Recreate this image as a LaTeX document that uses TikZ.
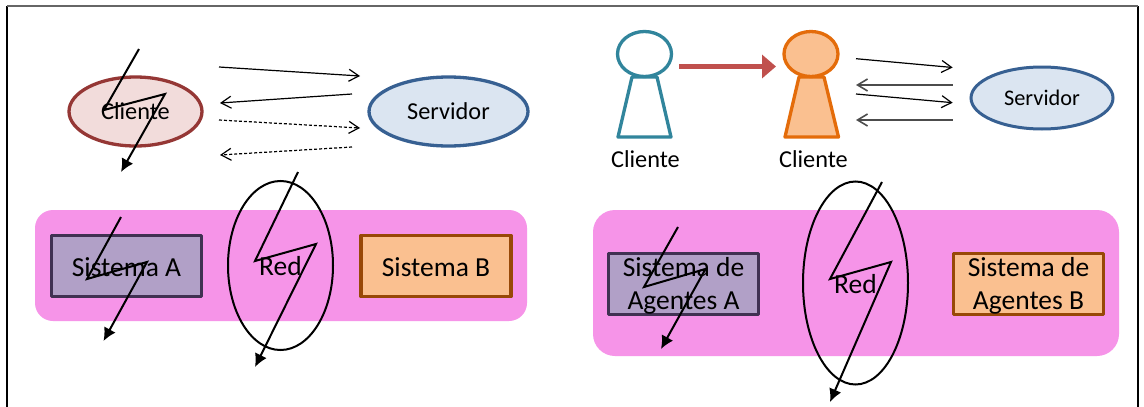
\documentclass[tikz,border=0pt]{standalone}
\usepackage{fontspec}
\setmainfont{Carlito}
\usetikzlibrary{arrows.meta,shapes.geometric,calc}
\definecolor{pinkbg}{HTML}{F694E8}
\definecolor{clientfill}{HTML}{F2DCDB}
\definecolor{clientline}{HTML}{953735}
\definecolor{servfill}{HTML}{DBE5F1}
\definecolor{servline}{HTML}{376092}
\definecolor{purplefill}{HTML}{B1A0C7}
\definecolor{purpleline}{HTML}{403152}
\definecolor{orangefill}{HTML}{FAC090}
\definecolor{orangeline}{HTML}{984807}
\definecolor{tealline}{HTML}{31859C}
\definecolor{orangep}{HTML}{E46C0A}
\definecolor{redarrow}{HTML}{C0504D}
\tikzset{
  x=1pt,y=-1pt,
  big/.style={font=\fontsize{27.5}{33}\selectfont,align=center,text=black},
  mid/.style={font=\fontsize{24.3}{29}\selectfont,align=center,text=black},
  small/.style={font=\fontsize{22.3}{27}\selectfont,align=center,text=black},
  panel/.style={fill=pinkbg,draw=none,rounded corners=#1,inner sep=0pt,minimum width=0pt},
  sysbox/.style={rectangle,line width=3.2pt,line join=round,inner sep=0pt,minimum width=150pt,minimum height=61pt},
  oval/.style={ellipse,line width=3.3pt,inner sep=0pt},
  redoval/.style={ellipse,draw=black,line width=2pt,inner sep=0pt},
  bolt/.style={draw=black,line width=2pt,line join=miter,-{Latex[length=13pt,width=13pt]}},
  msg/.style={draw=black,line width=1.2pt,-{Straight Barb[length=10pt,width=12pt]}},
  msgd/.style={msg,densely dashed},
  msgg/.style={msg,draw=black!70,line width=1.6pt},
  person/.style={line width=3.3pt,line join=round},
}
\begin{document}
\begin{tikzpicture}
\useasboundingbox (0,0) rectangle (1144,407);
\fill[white] (0,0) rectangle (1144,407);
% frame
\coordinate (fa) at (7,407); \coordinate (fb) at (7,6); \coordinate (fc) at (1138,6); \coordinate (fd) at (1138,407);
\draw[black,line width=1.4pt] (fa) -- (fb);
\draw[black,line width=1.4pt] (fc) -- (fd);
\draw[black!60,line width=2pt] (fb) -- (fc);

% panels
\node[panel=18pt,minimum width=492pt,minimum height=111pt] (pl) at (281,265.5) {};
\node[panel=22pt,minimum width=526pt,minimum height=146pt] (pr) at (856,283) {};

% left top
\node[oval,draw=clientline,fill=clientfill,mid,minimum width=133pt,minimum height=69pt] (cl) at (135.5,111.5) {Cliente};
\node[oval,draw=servline,fill=servfill,mid,minimum width=159pt,minimum height=69pt] (sv) at (448.5,111.5) {Servidor};
\coordinate (a1) at (219,67); \coordinate (a2) at (360,76);
\coordinate (a3) at (352,94); \coordinate (a4) at (220,103);
\coordinate (a5) at (219,120); \coordinate (a6) at (360,128);
\coordinate (a7) at (352,147); \coordinate (a8) at (220,155);
\draw[msg] (a1) -- (a2);
\draw[msg] (a3) -- (a4);
\draw[msgd] (a5) -- (a6);
\draw[msgd] (a7) -- (a8);

% left bottom
\node[sysbox,draw=purpleline,fill=purplefill,big] (sa) at (126.5,266) {\rule{0pt}{21pt}Sistema A};
\node[sysbox,draw=orangeline,fill=orangefill,big] (sb) at (436,266) {\rule{0pt}{21pt}Sistema B};
\node[redoval,big,minimum width=105pt,minimum height=169pt] (r1) at (280.5,265.5) {\rule{0pt}{21pt}Red};

% right top: persons
\coordinate (p1a) at (632,77); \coordinate (p1b) at (657,77); \coordinate (p1c) at (671,137); \coordinate (p1d) at (618,137);
\draw[person,draw=tealline,fill=white] (p1a) -- (p1b) -- (p1c) -- (p1d) -- cycle;
\node[ellipse,person,draw=tealline,fill=white,inner sep=0pt,minimum width=54pt,minimum height=45pt] (h1) at (644.5,54) {};
\coordinate (p2a) at (799,77); \coordinate (p2b) at (824,77); \coordinate (p2c) at (838.5,137); \coordinate (p2d) at (785,137);
\draw[person,draw=orangep,fill=orangefill] (p2a) -- (p2b) -- (p2c) -- (p2d) -- cycle;
\node[ellipse,person,draw=orangep,fill=orangefill,inner sep=0pt,minimum width=54pt,minimum height=45pt] (h2) at (811,54) {};
\node[mid] (l1) at (645.5,159) {Cliente};
\node[mid] (l2) at (813.5,159) {Cliente};
\coordinate (ra) at (679,66.5); \coordinate (rb) at (776,66.5);
\draw[draw=redarrow,line width=5pt,-{Triangle[length=14pt,width=23pt]}] (ra) -- (rb);
\node[oval,draw=servline,fill=servfill,small,line width=3pt,minimum width=142pt,minimum height=62pt] (s2) at (1042,98) {Servidor};
\coordinate (b1) at (856,58.7); \coordinate (b2) at (952.7,67.5);
\coordinate (b3) at (952.7,85); \coordinate (b4) at (856,85);
\coordinate (b5) at (856,94); \coordinate (b6) at (952.7,102.7);
\coordinate (b7) at (952.7,120); \coordinate (b8) at (856,120);
\draw[msg] (b1) -- (b2);
\draw[msgg] (b3) -- (b4);
\draw[msg] (b5) -- (b6);
\draw[msgg] (b7) -- (b8);

% right bottom
\node[sysbox,draw=purpleline,fill=purplefill,big] (ga) at (683.5,284) {\rule{0pt}{23pt}Sistema de\\Agentes A};
\node[sysbox,draw=orangeline,fill=orangefill,big] (gb) at (1028.5,284) {\rule{0pt}{23pt}Sistema de\\Agentes B};
\node[redoval,big,minimum width=105pt,minimum height=203pt] (r2) at (855.5,283) {\rule{0pt}{21pt}Red};

% lightning bolts
\coordinate (z1a) at (139,49); \coordinate (z1b) at (104,110); \coordinate (z1c) at (165,94); \coordinate (z1d) at (121,172);
\draw[bolt] (z1a) -- (z1b) -- (z1c) -- (z1d);
\coordinate (z2a) at (121,217); \coordinate (z2b) at (87,279); \coordinate (z2c) at (147,262); \coordinate (z2d) at (103.5,341);
\draw[bolt] (z2a) -- (z2b) -- (z2c) -- (z2d);
\coordinate (z3a) at (298,172); \coordinate (z3b) at (255,261); \coordinate (z3c) at (316,244); \coordinate (z3d) at (255,367);
\draw[bolt] (z3a) -- (z3b) -- (z3c) -- (z3d);
\coordinate (z4a) at (678,227); \coordinate (z4b) at (644,287); \coordinate (z4c) at (705.5,269); \coordinate (z4d) at (661,349);
\draw[bolt] (z4a) -- (z4b) -- (z4c) -- (z4d);
\coordinate (z5a) at (882,182); \coordinate (z5b) at (830,279); \coordinate (z5c) at (891,262); \coordinate (z5d) at (830,402);
\draw[bolt] (z5a) -- (z5b) -- (z5c) -- (z5d);
\end{tikzpicture}
\end{document}
